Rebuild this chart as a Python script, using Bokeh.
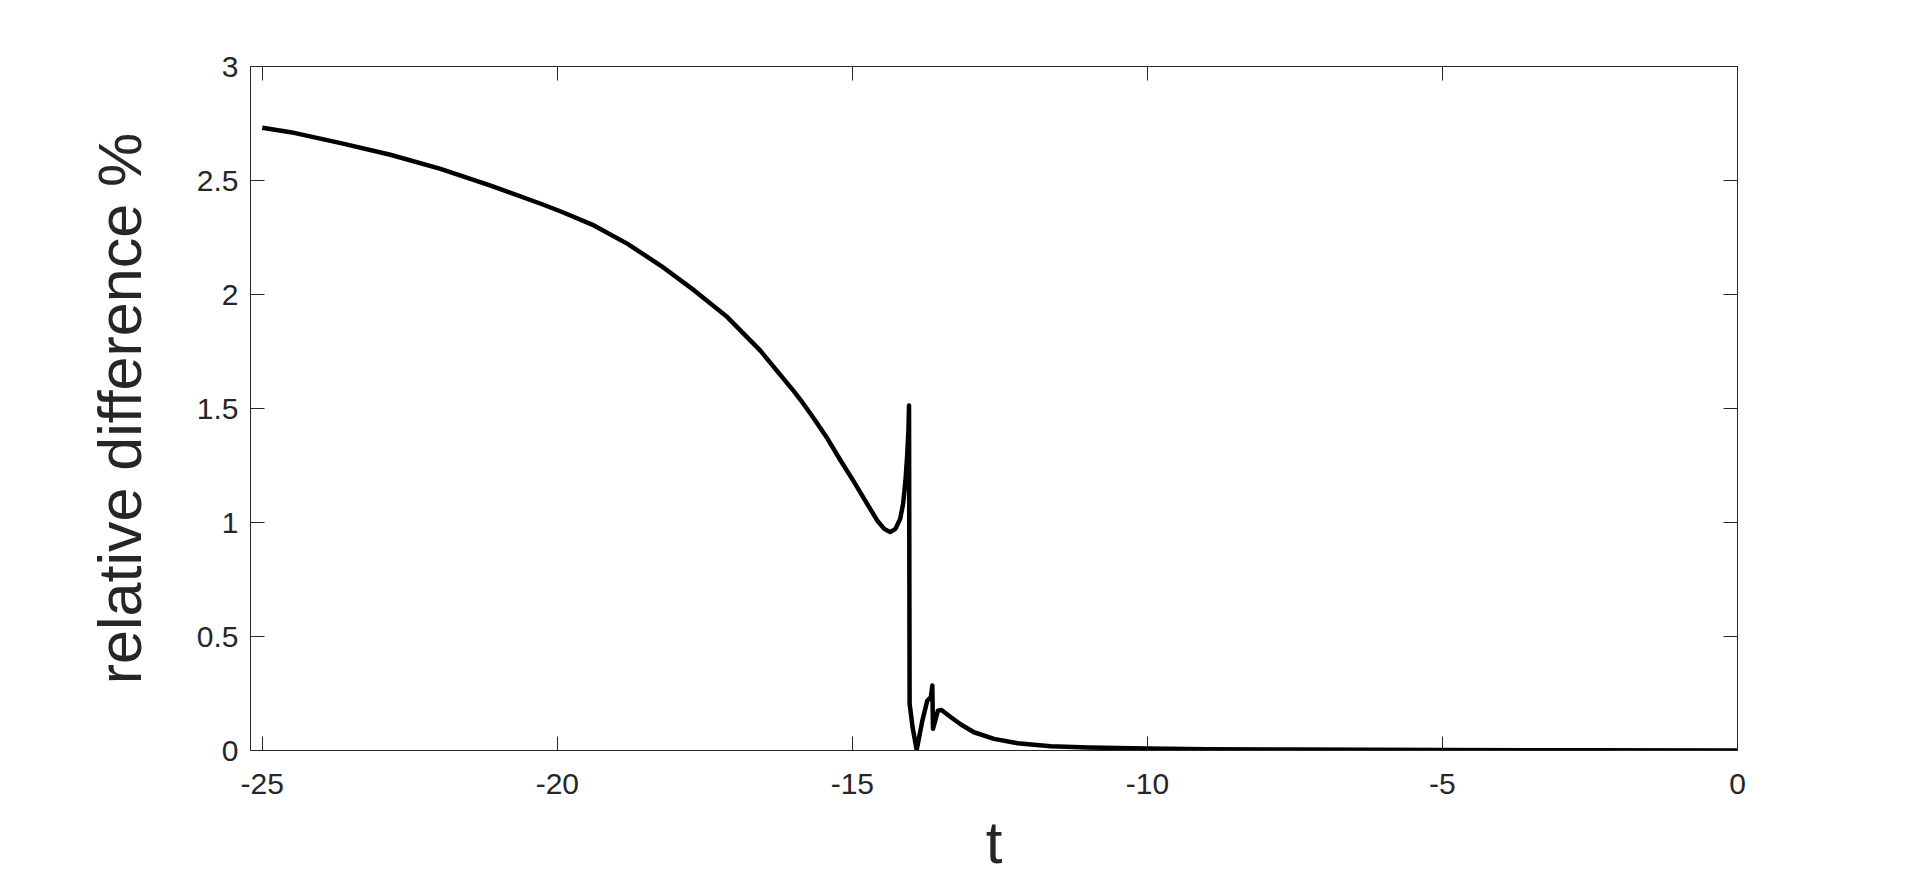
from bokeh.plotting import figure
from bokeh.models import (ColumnDataSource, FixedTicker, LinearAxis, Range1d,
                          NumeralTickFormatter, CustomJSTickFormatter)
from bokeh.embed import file_html
from bokeh.resources import INLINE

# data
t_vals = [-25.0, -24.52, -23.67, -22.83, -21.98, -21.13, -20.28, -19.94, -19.38,
          -18.81, -18.25, -17.68, -17.12, -16.56, -15.99, -15.87, -15.65, -15.42,
          -15.20, -14.97, -14.75, -14.58, -14.46, -14.36, -14.27, -14.19, -14.14,
          -14.10, -14.07, -14.05, -14.04, -14.03,
          -13.98, -13.91, -13.815, -13.73, -13.67, -13.645, -13.634, -13.55, -13.49,
          -13.33, -13.16, -12.94, -12.60, -12.20, -11.64, -11.0, -10.0, -9.0,
          -7.5, -5.0, -2.5, 0.0]
rel_diff = [2.731, 2.712, 2.664, 2.613, 2.551, 2.478, 2.398, 2.364, 2.303,
            2.222, 2.127, 2.018, 1.901, 1.754, 1.575, 1.535, 1.455, 1.367,
            1.272, 1.177, 1.082, 1.009, 0.972, 0.958, 0.972, 1.016, 1.082,
            1.184, 1.301, 1.404, 1.513, 0.205,
            0.102, 0.003, 0.130, 0.219, 0.234, 0.285, 0.095, 0.175, 0.178,
            0.146, 0.114, 0.080, 0.051, 0.032, 0.019, 0.013, 0.009, 0.006,
            0.004, 0.002, 0.001, 0.0005]
x_ticks = [-25, -20, -15, -10, -5, 0]
y_ticks = [0, 0.5, 1, 1.5, 2, 2.5, 3]
x_label = "t"
y_label = "relative difference %"

FONT = "Liberation Sans"
AX = "#262626"

src = ColumnDataSource(dict(t=t_vals, y=rel_diff))

p = figure(width=1920, height=879, output_backend="svg", toolbar_location=None,
           x_range=Range1d(-25.2, 0), y_range=Range1d(0, 3),
           min_border_left=250, min_border_right=183, min_border_top=66,
           min_border_bottom=129, x_axis_label=x_label, y_axis_label=y_label)
p.outline_line_color = AX
p.grid.visible = False
p.background_fill_color = "white"
p.border_fill_color = "white"

p.line("t", "y", source=src, line_color="black", line_width=4.5, line_join="round")

for ax in p.xaxis:
    ax.ticker = FixedTicker(ticks=x_ticks)
    ax.formatter = NumeralTickFormatter(format="0")
for ax in p.yaxis:
    ax.ticker = FixedTicker(ticks=y_ticks)
    ax.formatter = NumeralTickFormatter(format="0.[0]")

for ax in list(p.xaxis) + list(p.yaxis):
    ax.axis_line_color = AX
    ax.major_tick_line_color = AX
    ax.major_tick_in = 14
    ax.major_tick_out = 0
    ax.minor_tick_line_color = None
    ax.major_label_text_font = FONT
    ax.major_label_text_font_size = "30px"
    ax.major_label_text_color = AX
    ax.axis_label_text_font = FONT
    ax.axis_label_text_font_size = "60px"
    ax.axis_label_text_font_style = "normal"
    ax.axis_label_text_color = AX
p.yaxis.axis_label_text_font_size = "61px"
p.xaxis.major_label_standoff = 23
p.xaxis.axis_label_standoff = 12
p.yaxis.major_label_standoff = 12
p.yaxis.axis_label_standoff = 40

blank = CustomJSTickFormatter(code="return ''")
top = LinearAxis(ticker=FixedTicker(ticks=x_ticks), formatter=blank,
                 major_tick_in=14, major_tick_out=0, minor_tick_line_color=None,
                 axis_line_color=AX, major_tick_line_color=AX)
right = LinearAxis(ticker=FixedTicker(ticks=y_ticks), formatter=blank,
                   major_tick_in=14, major_tick_out=0, minor_tick_line_color=None,
                   axis_line_color=AX, major_tick_line_color=AX)
p.add_layout(top, "above")
p.add_layout(right, "right")

open("out.html", "w").write(file_html(p, INLINE))
